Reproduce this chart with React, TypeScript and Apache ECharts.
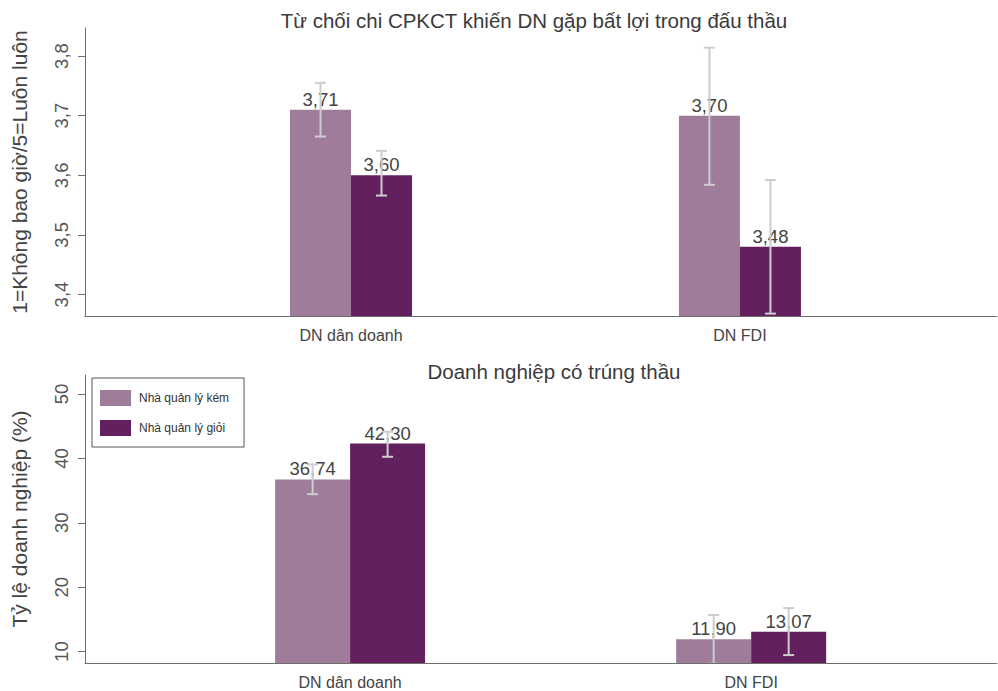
import React, { useEffect, useRef } from "react";
import * as echarts from "echarts";

const categories = ["DN dân doanh", "DN FDI"];
const seriesNames = ["Nhà quản lý kém", "Nhà quản lý giỏi"];
const colors = ["#9e7c9a", "#62205e"];

// Panel 1: Từ chối chi CPKCT ...
const topWeak = [3.71, 3.70];
const topGood = [3.60, 3.48];
const topWeakLow = [3.665, 3.584];
const topWeakHigh = [3.755, 3.814];
const topGoodLow = [3.566, 3.368];
const topGoodHigh = [3.641, 3.592];
const topTicks = [3.4, 3.5, 3.6, 3.7, 3.8];

// Panel 2: Doanh nghiệp có trúng thầu
const botWeak = [36.74, 11.90];
const botGood = [42.30, 13.07];
const botWeakLow = [34.45, 8.12];
const botWeakHigh = [39.07, 15.68];
const botGoodLow = [40.25, 9.46];
const botGoodHigh = [44.14, 16.76];
const botTicks = [10, 20, 30, 40, 50];

const FONT = "Liberation Sans, Arial, Helvetica, sans-serif";
const catPos = categories.map((_, i) => i + 1);

function errRender(bw: number) {
  return (params: any, api: any) => {
    const x = api.value(0);
    const lo = api.value(1);
    const hi = api.value(2);
    const side = api.value(3);
    const p1 = api.coord([x, hi]);
    const p2 = api.coord([x, lo]);
    const cx = p1[0] + (side * bw) / 2;
    const cap = 5.5;
    const style = { stroke: "#cdcdcd", lineWidth: 2 };
    return {
      type: "group",
      children: [
        { type: "line", shape: { x1: cx, y1: p1[1], x2: cx, y2: p2[1] }, style },
        { type: "line", shape: { x1: cx - cap, y1: p1[1], x2: cx + cap, y2: p1[1] }, style },
        { type: "line", shape: { x1: cx - cap, y1: p2[1], x2: cx + cap, y2: p2[1] }, style },
      ],
    };
  };
}

function errData(wl: number[], wh: number[], gl: number[], gh: number[]) {
  const out: number[][] = [];
  catPos.forEach((x, i) => {
    out.push([x, wl[i], wh[i], -1]);
    out.push([x, gl[i], gh[i], 1]);
  });
  return out;
}

const fmt = (d: number) => (v: any) => Number(v.value[1]).toFixed(d).replace(".", ",");

export default function App() {
  const ref = useRef<HTMLDivElement>(null);
  useEffect(() => {
    if (!ref.current) return;
    const chart = echarts.init(ref.current, null, { renderer: "svg" });
    const axisLine = { lineStyle: { color: "#6e6e6e", width: 1 } };
    const labelCommon = {
      show: true,
      position: "top",
      distance: 1,
      fontFamily: FONT,
      fontSize: 18.5,
      color: "#444",
    };
    const barCommon = { type: "bar", barGap: "0%", clip: true };
    chart.setOption({
      animation: false,
      textStyle: { fontFamily: FONT },
      graphic: [
        {
          type: "text",
          x: 534,
          y: 20,
          style: {
            text: "Từ chối chi CPKCT khiến DN gặp bất lợi trong đấu thầu",
            fontFamily: FONT,
            fontSize: 20.5,
            fill: "#3a3a3a",
            textAlign: "center",
            textVerticalAlign: "middle",
          },
        },
        {
          type: "text",
          x: 554,
          y: 371,
          style: {
            text: "Doanh nghiệp có trúng thầu",
            fontFamily: FONT,
            fontSize: 20.5,
            fill: "#3a3a3a",
            textAlign: "center",
            textVerticalAlign: "middle",
          },
        },
      ],
      legend: {
        data: seriesNames,
        orient: "vertical",
        left: 92,
        top: 378,
        itemWidth: 31,
        itemHeight: 16,
        itemGap: 14,
        padding: [12, 15, 11, 8],
        borderColor: "#555",
        borderWidth: 1,
        icon: "rect",
        textStyle: { fontFamily: FONT, fontSize: 12, color: "#333", padding: [0, 0, 0, 3] },
      },
      grid: [
        { left: 85, right: 1, top: 28, height: 288 },
        { left: 85, right: 1, top: 375, height: 288 },
      ],
      xAxis: [0, 1].map((g) => ({
        type: "value",
        gridIndex: g,
        min: g === 0 ? 0.316 : 0.339,
        max: g === 0 ? 2.661 : 2.613,
        axisLine,
        axisTick: { show: false },
        splitLine: { show: false },
        axisLabel: {
          customValues: catPos,
          formatter: (v: number) => categories[Math.round(v) - 1] || "",
          fontFamily: FONT,
          fontSize: 16,
          color: "#444",
          margin: 11,
        },
      })),
      yAxis: [0, 1].map((g) => ({
        type: "value",
        gridIndex: g,
        min: g === 0 ? 3.364 : 8.23,
        max: g === 0 ? 3.847 : 52.95,
        name: g === 0 ? "1=Không bao giờ/5=Luôn luôn" : "Tỷ lệ doanh nghiệp (%)",
        nameLocation: "middle",
        nameGap: 55,
        nameTextStyle: { fontFamily: FONT, fontSize: 21, color: "#444" },
        axisLine: { show: true, lineStyle: { color: "#6e6e6e", width: 1 } },
        axisTick: {
          show: true,
          length: 7,
          customValues: g === 0 ? topTicks : botTicks,
          lineStyle: { color: "#6e6e6e" },
        },
        splitLine: { show: false },
        axisLabel: {
          customValues: g === 0 ? topTicks : botTicks,
          rotate: 90,
          margin: 14,
          fontFamily: FONT,
          fontSize: 18.5,
          color: "#555",
          formatter: (v: number) =>
            g === 0 ? v.toFixed(1).replace(".", ",") : String(Math.round(v)),
        },
      })),
      series: [
        {
          ...barCommon,
          name: seriesNames[0],
          xAxisIndex: 0,
          yAxisIndex: 0,
          barWidth: 61,
          itemStyle: { color: colors[0] },
          label: { ...labelCommon, formatter: fmt(2) },
          data: catPos.map((x, i) => [x, topWeak[i]]),
        },
        {
          ...barCommon,
          name: seriesNames[1],
          xAxisIndex: 0,
          yAxisIndex: 0,
          barWidth: 61,
          itemStyle: { color: colors[1] },
          label: { ...labelCommon, formatter: fmt(2) },
          data: catPos.map((x, i) => [x, topGood[i]]),
        },
        {
          ...barCommon,
          name: seriesNames[0],
          xAxisIndex: 1,
          yAxisIndex: 1,
          barWidth: 75,
          itemStyle: { color: colors[0] },
          label: { ...labelCommon, formatter: fmt(2) },
          data: catPos.map((x, i) => [x, botWeak[i]]),
        },
        {
          ...barCommon,
          name: seriesNames[1],
          xAxisIndex: 1,
          yAxisIndex: 1,
          barWidth: 75,
          itemStyle: { color: colors[1] },
          label: { ...labelCommon, formatter: fmt(2) },
          data: catPos.map((x, i) => [x, botGood[i]]),
        },
        {
          type: "custom",
          name: "err1",
          xAxisIndex: 0,
          yAxisIndex: 0,
          z: 10,
          clip: true,
          renderItem: errRender(61),
          encode: { x: 0, y: [1, 2] },
          data: errData(topWeakLow, topWeakHigh, topGoodLow, topGoodHigh),
        },
        {
          type: "custom",
          name: "err2",
          xAxisIndex: 1,
          yAxisIndex: 1,
          z: 10,
          clip: true,
          renderItem: errRender(75),
          encode: { x: 0, y: [1, 2] },
          data: errData(botWeakLow, botWeakHigh, botGoodLow, botGoodHigh),
        },
      ],
    });
    return () => chart.dispose();
  }, []);
  return (
    <div
      ref={ref}
      style={{ position: "fixed", left: 0, top: 0, width: 998, height: 691, background: "#fff" }}
    />
  );
}
